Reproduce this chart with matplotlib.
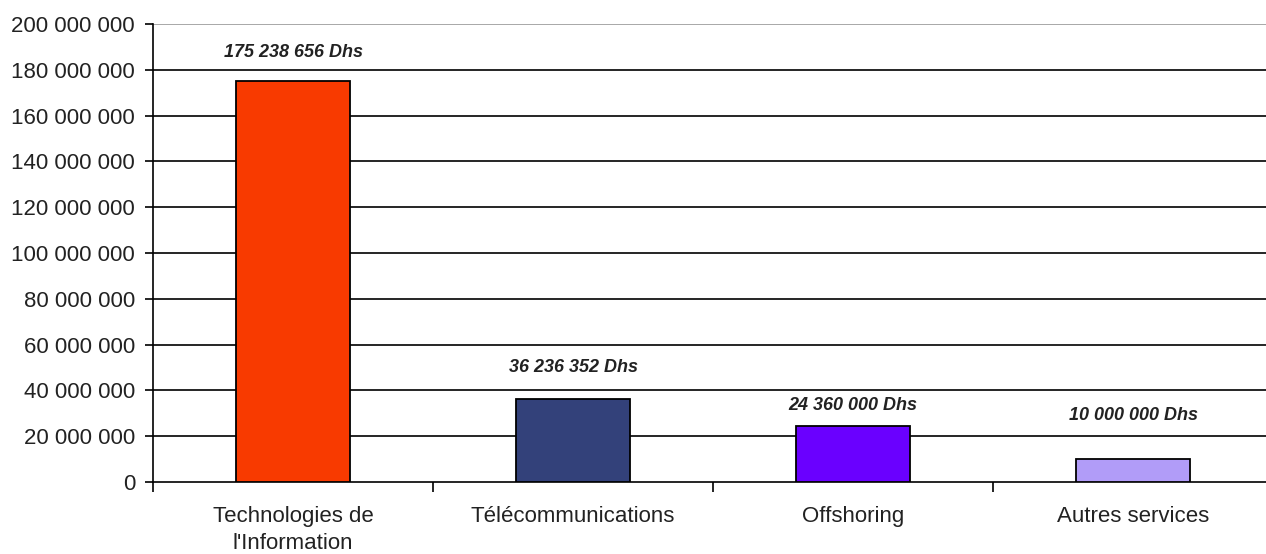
import matplotlib.pyplot as plt
import numpy as np
from matplotlib.ticker import FuncFormatter, FixedLocator

plt.rcParams['font.family'] = ['Liberation Sans', 'DejaVu Sans']

categories = ["Technologies de\nl'Information", "Télécommunications", "Offshoring", "Autres services"]
values = [175238656, 36236352, 24360000, 10000000]
value_labels = ["175 238 656 Dhs", "36 236 352 Dhs", "24 360 000 Dhs", "10 000 000 Dhs"]
colors = ["#F83A00", "#33417A", "#6A00FF", "#B19CF8"]
y_ticks = list(range(0, 200000001, 20000000))

fig = plt.figure(figsize=(12.66, 5.54), dpi=100)
ax = fig.add_axes([0.1209, 0.13, 0.8847, 0.8267])

x = np.arange(len(categories))
ax.set_axisbelow(True)
bars = ax.bar(x, values, width=0.407, color=colors, edgecolor="black", linewidth=1.3, zorder=3)

ax.set_xlim(-0.5, len(categories) - 0.5)
ax.set_ylim(0, 200000000)

# horizontal grid, the top line lighter
for t in y_ticks[1:]:
    ax.axhline(t, color="#9a9a9a" if t == y_ticks[-1] else "black", linewidth=1.2, zorder=1)

ax.set_yticks(y_ticks)
ax.yaxis.set_major_formatter(FuncFormatter(lambda v, p: f"{int(v):,}".replace(",", " ")))
ax.tick_params(axis="y", length=6, width=1.2, labelsize=16, labelcolor="#222222", pad=7)

# category boundaries carry the tick marks, names sit under the bars
ax.xaxis.set_major_locator(FixedLocator(np.arange(-0.5, len(categories) - 0.4, 1.0)))
ax.xaxis.set_major_formatter(FuncFormatter(lambda v, p: ""))
ax.tick_params(axis="x", length=7, width=1.2)
ax.set_xticks(x, minor=True)
ax.set_xticklabels(categories, minor=True, linespacing=1.4)
ax.tick_params(axis="x", which="minor", length=0, labelsize=16, labelcolor="#222222", pad=17)

for side in ["top", "right"]:
    ax.spines[side].set_visible(False)
for side in ["left", "bottom"]:
    ax.spines[side].set_linewidth(1.2)

# value labels above each bar
offsets = [20, 23, 15, 31.5]
for b, lab, off in zip(bars, value_labels, offsets):
    ax.annotate(lab, (b.get_x() + b.get_width() / 2, b.get_height()),
                xytext=(0, off), textcoords="offset points",
                ha="center", va="center", fontsize=13, style="italic",
                weight="bold", color="#222222")

fig.savefig("out.png", dpi=100)
